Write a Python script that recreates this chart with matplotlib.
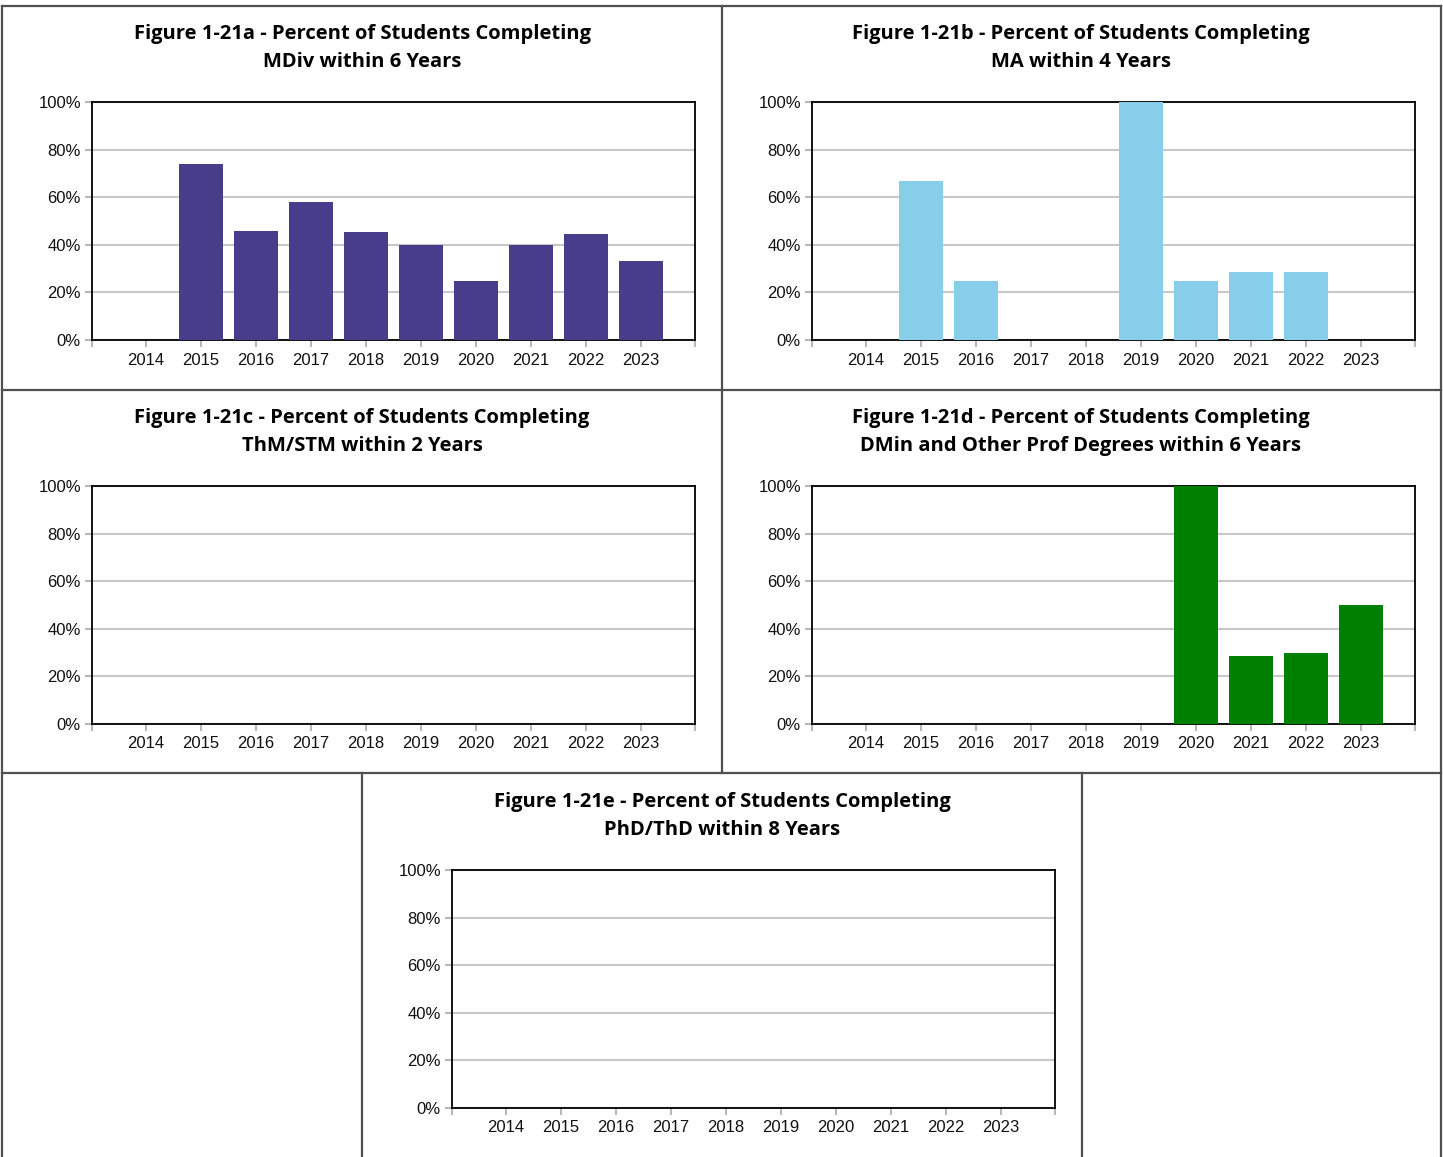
import matplotlib
matplotlib.use("Agg")
import matplotlib.pyplot as plt
from matplotlib.lines import Line2D
import numpy as np

W, H = 1443, 1157
DPI = 100

years = ["2014", "2015", "2016", "2017", "2018", "2019", "2020", "2021", "2022", "2023"]
nan = np.nan

# percent completing, nan = no data
mdiv_6yr = [nan, 73.9, 45.8, 58.0, 45.5, 40.0, 25.0, 40.0, 44.4, 33.3]
ma_4yr = [nan, 66.7, 25.0, nan, nan, 100.0, 25.0, 28.6, 28.6, nan]
thm_2yr = [nan] * 10
dmin_6yr = [nan, nan, nan, nan, nan, nan, 100.0, 28.6, 30.0, 50.0]
phd_8yr = [nan] * 10

titles = [
    "Figure 1-21a - Percent of Students Completing\nMDiv within 6 Years",
    "Figure 1-21b - Percent of Students Completing\nMA within 4 Years",
    "Figure 1-21c - Percent of Students Completing\nThM/STM within 2 Years",
    "Figure 1-21d - Percent of Students Completing\nDMin and Other Prof Degrees within 6 Years",
    "Figure 1-21e - Percent of Students Completing\nPhD/ThD within 8 Years",
]
colors = ["#483D8B", "#87CEEB", "#483D8B", "#008000", "#483D8B"]
series = [mdiv_6yr, ma_4yr, thm_2yr, dmin_6yr, phd_8yr]

# axes boxes in pixels: left, top, right, bottom ; title centre x
boxes = [
    (92, 102, 695, 340, 362),
    (812, 102, 1415, 340, 1081),
    (92, 486, 695, 724, 362),
    (812, 486, 1415, 724, 1081),
    (452, 870, 1055, 1108, 722),
]

fig = plt.figure(figsize=(W / DPI, H / DPI), dpi=DPI)
fig.patch.set_facecolor("white")


def fx(x):
    return x / W


def fy(y):
    return 1 - y / H


for vals, title, col, (l, t, r, b, cx) in zip(series, titles, colors, boxes):
    ax = fig.add_axes([fx(l), fy(b), (r - l) / W, (b - t) / H])
    x = np.arange(len(years))
    v = np.array(vals, dtype=float)
    ax.bar(x, np.nan_to_num(v), width=0.8, color=col, zorder=3)
    ax.set_xlim(-0.98, 9.98)
    ax.set_ylim(0, 100)
    ax.set_yticks([0, 20, 40, 60, 80, 100])
    ax.set_yticklabels(["0%", "20%", "40%", "60%", "80%", "100%"])
    ax.set_xticks(x)
    ax.set_xticklabels(years)
    ax.set_xticks([-0.98, 9.98], minor=True)
    ax.grid(axis="y", color="#c8c8c8", linewidth=1.5, zorder=0)
    for s in ax.spines.values():
        s.set_color("black")
        s.set_linewidth(1.3)
    ax.tick_params(axis="both", which="both", color="#b0b0b0", length=5, width=1.3,
                   labelsize=12, labelcolor="#111111")
    ax.tick_params(axis="x", which="major", pad=4)
    ax.tick_params(axis="y", pad=3)
    for lab in ax.get_xticklabels() + ax.get_yticklabels():
        lab.set_fontfamily("Liberation Sans")
    fig.text(fx(cx), fy(t - 54), title, ha="center", va="center", fontsize=14.5,
             fontweight="bold", fontfamily="Open Sans", linespacing=1.5, color="black")

# table cell borders
border = "#505050"
lines = [
    ((2, 6), (1441, 6)),
    ((2, 390), (1441, 390)),
    ((2, 773), (1441, 773)),
    ((2, 6), (2, 1157)),
    ((1441, 6), (1441, 1157)),
    ((722, 6), (722, 773)),
    ((362, 773), (362, 1157)),
    ((1082, 773), (1082, 1157)),
]
for (x0, y0), (x1, y1) in lines:
    fig.add_artist(Line2D([fx(x0), fx(x1)], [fy(y0), fy(y1)], color=border, linewidth=1.6,
                          transform=fig.transFigure))

fig.savefig("out.png", dpi=DPI)
